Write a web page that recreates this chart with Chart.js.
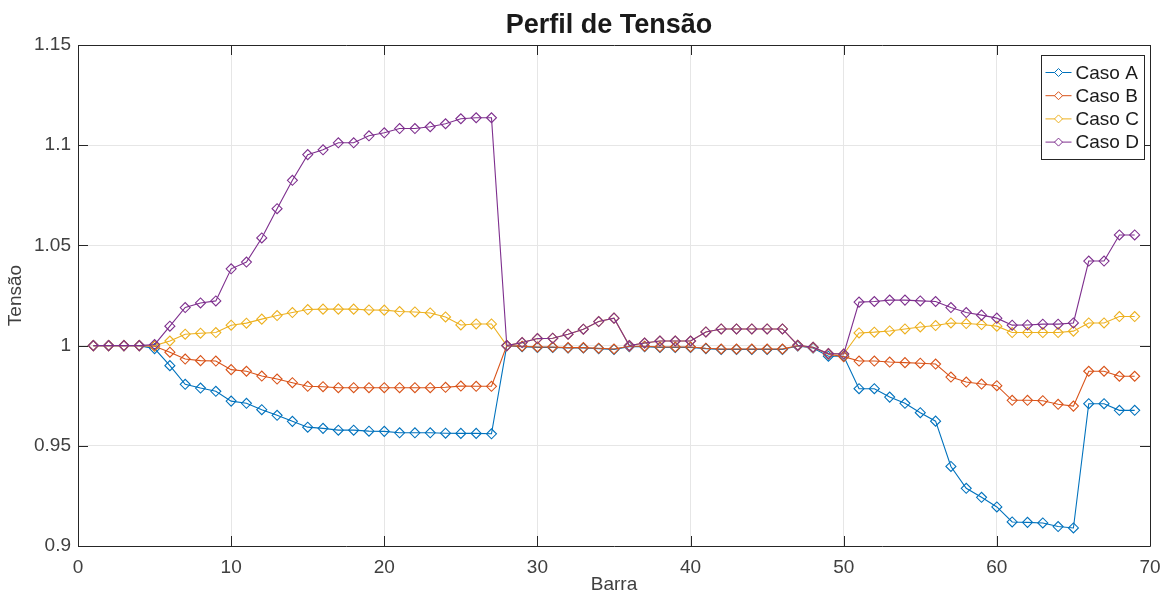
<!DOCTYPE html>
<html>
<head>
<meta charset="utf-8">
<script src="https://cdn.jsdelivr.net/npm/chart.js@4"></script>
<style>
  html, body { margin: 0; padding: 0; background: #ffffff; }
  #wrap { width: 1165px; height: 594px; }
</style>
</head>
<body>
<div id="wrap"><canvas id="c" width="1165" height="594"></canvas></div>
<script>
// Barras do sistema (eixo x)
const barras = [
  1, 2, 3, 4, 5, 6, 7, 8, 9, 10, 11, 12, 13, 14, 15, 16, 17, 18, 19, 20,
  21, 22, 23, 24, 25, 26, 27, 28, 29, 30, 31, 32, 33, 34, 35, 36, 37, 38, 39, 40,
  41, 42, 43, 44, 45, 46, 47, 48, 49, 50, 51, 52, 53, 54, 55, 56, 57, 58, 59, 60,
  61, 62, 63, 64, 65, 66, 67, 68, 69
];

// Tensão (p.u.) em cada barra para cada caso
const casoA = [
  1, 1, 1, 1, 0.9985, 0.990, 0.9807, 0.9788, 0.9772, 0.9723,
  0.9712, 0.968, 0.9652, 0.9622, 0.9593, 0.9587, 0.9578, 0.9578, 0.9573, 0.9572,
  0.9565, 0.9565, 0.9565, 0.9563, 0.9562, 0.9562, 0.956, 1.0, 0.9995, 0.9991,
  0.9991, 0.9988, 0.9988, 0.9985, 0.9981, 0.9995, 0.9995, 0.9991, 0.9991, 0.9991,
  0.9985, 0.9981, 0.9981, 0.9981, 0.9981, 0.9981, 0.9998, 0.9988, 0.9947, 0.9947,
  0.9785, 0.9785, 0.9743, 0.9712, 0.9665, 0.9623, 0.9397, 0.9288, 0.9243, 0.9195,
  0.912, 0.9118, 0.9115, 0.9097, 0.909, 0.971, 0.971, 0.9677, 0.9677
];
const casoB = [
  1, 1, 1, 1, 0.9997, 0.9967, 0.9933, 0.9925, 0.9923, 0.988,
  0.9872, 0.9848, 0.9833, 0.9815, 0.9797, 0.9795, 0.979, 0.979, 0.979, 0.979,
  0.979, 0.979, 0.979, 0.9792, 0.9798, 0.9797, 0.9797, 1.0, 0.9997, 0.9993,
  0.9993, 0.999, 0.999, 0.9987, 0.9983, 0.9997, 0.9997, 0.9993, 0.9993, 0.9993,
  0.9987, 0.9983, 0.9983, 0.9983, 0.9983, 0.9983, 1.0, 0.999, 0.9957, 0.9945,
  0.9923, 0.9923, 0.9918, 0.9915, 0.9912, 0.9908, 0.9843, 0.9818, 0.9808, 0.98,
  0.9727, 0.9727, 0.9725, 0.9707, 0.9698, 0.9872, 0.9872, 0.9847, 0.9847
];
const casoC = [
  1, 1, 1, 1, 1, 1.0023, 1.0057, 1.0062, 1.0065, 1.0102,
  1.0112, 1.0132, 1.015, 1.0165, 1.018, 1.0182, 1.0182, 1.0182, 1.0178, 1.0177,
  1.017, 1.0168, 1.0163, 1.0143, 1.0103, 1.0108, 1.0108, 1.0, 1.0015, 1.0035,
  1.0037, 1.0057, 1.0082, 1.012, 1.0137, 1.0, 1.0013, 1.0023, 1.0023, 1.0023,
  1.0068, 1.0083, 1.0083, 1.0083, 1.0083, 1.0083, 1.0002, 0.9992, 0.996, 0.9958,
  1.0063, 1.0067, 1.0073, 1.0083, 1.0093, 1.01, 1.0113, 1.011, 1.0105, 1.0097,
  1.0065, 1.0065, 1.0065, 1.0065, 1.0072, 1.0113, 1.0113, 1.0145, 1.0145
];
const casoD = [
  1, 1, 1, 1, 1.0005, 1.0097, 1.019, 1.0213, 1.0223, 1.0383,
  1.0417, 1.0537, 1.0683, 1.0825, 1.0953, 1.0977, 1.1012, 1.1012, 1.1047, 1.1062,
  1.1083, 1.1083, 1.1092, 1.1107, 1.1132, 1.1137, 1.1137, 1.0, 1.0015, 1.0035,
  1.0037, 1.0057, 1.0082, 1.012, 1.0137, 1.0, 1.0013, 1.0023, 1.0023, 1.0023,
  1.0068, 1.0083, 1.0083, 1.0083, 1.0083, 1.0083, 1.0002, 0.9992, 0.996, 0.9958,
  1.0217, 1.022, 1.0227, 1.0227, 1.0223, 1.022, 1.019, 1.0165, 1.0152, 1.0137,
  1.0102, 1.0103, 1.0107, 1.0107, 1.0113, 1.0422, 1.0422, 1.0552, 1.0552
];

const nomesCasos = ['Caso A', 'Caso B', 'Caso C', 'Caso D'];
const coresCasos = ['#0072BD', '#D95319', '#EDB120', '#7E2F8E'];
const xTicks = [0, 10, 20, 30, 40, 50, 60, 70];
const yTicks = [0.9, 0.95, 1, 1.05, 1.1, 1.15];

const FONT = "'Liberation Sans', Arial, Helvetica, sans-serif";
const AXIS_COLOR = '#262626';
const TEXT_COLOR = '#404040';

function serie(valores) {
  return barras.map((b, i) => ({ x: b, y: valores[i] }));
}

// Cada caso é desenhado por cima do anterior (Caso D no topo)
const datasets = [casoA, casoB, casoC, casoD].map((vals, i) => ({
  label: nomesCasos[i],
  data: serie(vals),
  order: 3 - i,
  borderColor: coresCasos[i],
  backgroundColor: 'rgba(0,0,0,0)',
  pointBackgroundColor: 'rgba(0,0,0,0)',
  pointBorderColor: coresCasos[i],
  borderWidth: 1.1,
  pointBorderWidth: 1.1,
  pointStyle: 'rectRot',
  pointRadius: 5,
  pointHoverRadius: 5,
  tension: 0,
  fill: false
}));

// Título centrado sobre a área dos eixos
const tituloPlugin = {
  id: 'tituloEixos',
  afterDraw(chart) {
    const { ctx, chartArea } = chart;
    ctx.save();
    ctx.font = "bold 27px " + FONT;
    ctx.fillStyle = '#1a1a1a';
    ctx.textAlign = 'center';
    ctx.textBaseline = 'alphabetic';
    ctx.fillText('Perfil de Tensão', (chartArea.left + chartArea.right) / 2 - 5, 33);
    ctx.restore();
  }
};

// Caixa dos eixos com marcas de escala voltadas para dentro
const caixaPlugin = {
  id: 'caixaEixos',
  afterDatasetsDraw(chart) {
    const { ctx, chartArea: a, scales } = chart;
    const L = 10;
    ctx.save();
    ctx.strokeStyle = AXIS_COLOR;
    ctx.lineWidth = 1;
    ctx.beginPath();
    ctx.rect(Math.round(a.left) + 0.5, Math.round(a.top) + 0.5,
             Math.round(a.right - a.left), Math.round(a.bottom - a.top));
    xTicks.forEach(v => {
      const px = Math.round(scales.x.getPixelForValue(v)) + 0.5;
      ctx.moveTo(px, a.bottom); ctx.lineTo(px, a.bottom - L);
      ctx.moveTo(px, a.top); ctx.lineTo(px, a.top + L);
    });
    yTicks.forEach(v => {
      const py = Math.round(scales.y.getPixelForValue(v)) + 0.5;
      ctx.moveTo(a.left, py); ctx.lineTo(a.left + L, py);
      ctx.moveTo(a.right, py); ctx.lineTo(a.right - L, py);
    });
    ctx.stroke();
    ctx.restore();
  }
};

// Legenda no canto superior direito, dentro dos eixos
const legendaPlugin = {
  id: 'legendaCasos',
  afterDraw(chart) {
    const { ctx, chartArea: a } = chart;
    const boxW = 103, boxH = 104;
    const x0 = Math.round(a.right - 6 - boxW) + 0.5;
    const y0 = Math.round(a.top + 10) + 0.5;
    ctx.save();
    ctx.fillStyle = '#ffffff';
    ctx.fillRect(x0, y0, boxW, boxH);
    ctx.strokeStyle = '#262626';
    ctx.lineWidth = 1;
    ctx.strokeRect(x0, y0, boxW, boxH);
    ctx.font = "19px " + FONT;
    ctx.textBaseline = 'middle';
    ctx.textAlign = 'left';
    chart.data.datasets.forEach((ds, i) => {
      const cy = y0 + 17 + i * 23.2;
      ctx.strokeStyle = ds.borderColor;
      ctx.beginPath();
      ctx.moveTo(x0 + 4, cy);
      ctx.lineTo(x0 + 30, cy);
      ctx.stroke();
      const mx = x0 + 17, r = 4;
      ctx.beginPath();
      ctx.moveTo(mx, cy - r);
      ctx.lineTo(mx + r, cy);
      ctx.lineTo(mx, cy + r);
      ctx.lineTo(mx - r, cy);
      ctx.closePath();
      ctx.fillStyle = '#ffffff';
      ctx.fill();
      ctx.stroke();
      ctx.fillStyle = '#1a1a1a';
      ctx.fillText(ds.label, x0 + 34, cy + 1);
    });
    ctx.restore();
  }
};

function fmtTick(v) {
  return String(parseFloat(Number(v).toFixed(2)));
}

new Chart(document.getElementById('c'), {
  type: 'line',
  data: { datasets },
  options: {
    responsive: false,
    animation: false,
    devicePixelRatio: 1,
    layout: { padding: { left: 0, right: 15, top: 45, bottom: 0 } },
    plugins: {
      legend: { display: false },
      title: { display: false },
      tooltip: { enabled: false }
    },
    scales: {
      x: {
        type: 'linear',
        min: 0, max: 70,
        afterBuildTicks: s => { s.ticks = xTicks.map(v => ({ value: v })); },
        afterFit: s => { s.height = 48; s.paddingLeft = 10; s.paddingRight = 10; },
        ticks: {
          font: { family: FONT, size: 19 },
          color: TEXT_COLOR,
          padding: 10,
          maxRotation: 0,
          callback: fmtTick
        },
        grid: { color: '#e6e6e6', lineWidth: 1, drawTicks: false },
        border: { display: false },
        title: {
          display: true, text: 'Barra', color: TEXT_COLOR,
          font: { family: FONT, size: 19, lineHeight: 1 },
          padding: 0
        }
      },
      y: {
        type: 'linear',
        min: 0.9, max: 1.15,
        afterBuildTicks: s => { s.ticks = yTicks.map(v => ({ value: v })); },
        afterFit: s => { s.width = 78; },
        ticks: {
          font: { family: FONT, size: 19 },
          color: TEXT_COLOR,
          padding: 7,
          callback: fmtTick
        },
        grid: { color: '#e6e6e6', lineWidth: 1, drawTicks: false },
        border: { display: false },
        title: {
          display: true, text: 'Tensão', color: TEXT_COLOR,
          font: { family: FONT, size: 19, lineHeight: 1.2 },
          padding: { top: 4, bottom: 0 }
        }
      }
    }
  },
  plugins: [caixaPlugin, legendaPlugin, tituloPlugin]
});
</script>
</body>
</html>
